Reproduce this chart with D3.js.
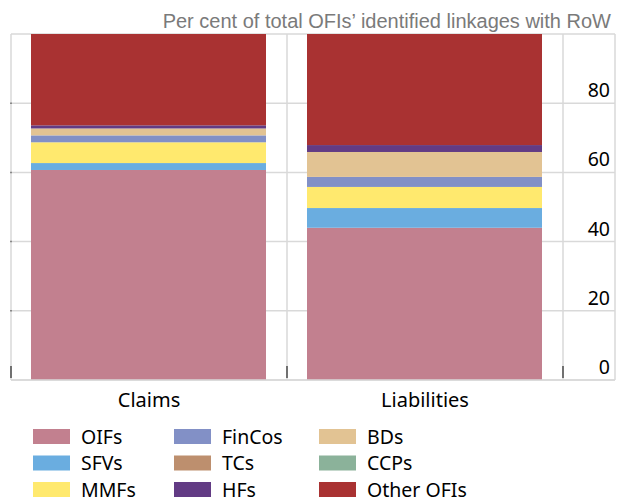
<!DOCTYPE html>
<html>
<head>
<meta charset="utf-8">
<script src="https://cdn.jsdelivr.net/npm/d3@7"></script>
<style>
  body { margin: 0; background: #fff; }
  svg { display: block; }
</style>
</head>
<body>
<script>
// categories and series (per cent of total)
var categories = ['Claims', 'Liabilities'];
var seriesNames = ['OIFs', 'SFVs', 'MMFs', 'FinCos', 'TCs', 'BDs', 'CCPs', 'HFs', 'Other OFIs'];
var seriesColors = ['#c2808f', '#6aade0', '#ffe96e', '#8290c6', '#bd8f6e', '#e2c393', '#8bb29a', '#623b84', '#a93232'];
var claimsValues = [60.7, 2.0, 6.0, 2.0, 0, 2.0, 0, 0.9, 26.4];
var liabilitiesValues = [44.0, 5.7, 6.1, 2.9, 0, 7.2, 0, 2.0, 32.1];
var legendOrder = ['OIFs', 'SFVs', 'MMFs', 'FinCos', 'TCs', 'HFs', 'BDs', 'CCPs', 'Other OFIs'];
var yTicks = [0, 20, 40, 60, 80];
var title = 'Per cent of total OFIs\u2019 identified linkages with RoW';

var W = 619, H = 501;
var mLeft = 11, plotRight = 563, mRight = 615, mTop = 34, mBottom = 380;

var svg = d3.select('body').append('svg').attr('width', W).attr('height', H);

// build rows for stacking
var rows = categories.map(function(c, i) {
  var vals = i === 0 ? claimsValues : liabilitiesValues;
  var r = { cat: c };
  seriesNames.forEach(function(s, j) { r[s] = vals[j]; });
  return r;
});
var stacked = d3.stack().keys(seriesNames)(rows);

var x = d3.scaleBand().domain(categories).range([mLeft, plotRight]);
var y = d3.scaleLinear().domain([0, 100]).range([mBottom, mTop]);
var barPad = 20;
var colorOf = function(name) { return seriesColors[seriesNames.indexOf(name)]; };

// gridlines
var grid = svg.append('g');
grid.selectAll('line.h').data(yTicks.concat([100])).enter().append('line')
  .attr('x1', mLeft).attr('x2', mRight)
  .attr('y1', function(d) { return y(d); }).attr('y2', function(d) { return y(d); })
  .attr('stroke', '#d9d9d9').attr('stroke-width', 1.5);
var vx = categories.map(function(c) { return x(c); }).concat([plotRight, mRight]);
grid.selectAll('line.v').data(vx).enter().append('line')
  .attr('x1', function(d) { return d; }).attr('x2', function(d) { return d; })
  .attr('y1', mTop).attr('y2', mBottom)
  .attr('stroke', '#d9d9d9').attr('stroke-width', 1.5);

// bars
svg.append('g').selectAll('g').data(stacked).enter().append('g')
  .attr('fill', function(d) { return colorOf(d.key); })
  .selectAll('rect').data(function(d) { return d; }).enter().append('rect')
  .attr('x', function(d) { return x(d.data.cat) + barPad; })
  .attr('width', x.bandwidth() - 2 * barPad - 1)
  .attr('y', function(d) { return y(d[1]); })
  .attr('height', function(d) { return y(d[0]) - y(d[1]); });

// baseline
svg.append('line').attr('x1', mLeft).attr('x2', mRight).attr('y1', mBottom).attr('y2', mBottom)
  .attr('stroke', '#d9d9d9').attr('stroke-width', 1.5);

// category ticks
svg.append('g').selectAll('line').data(categories.map(function(c) { return x(c); }).concat([plotRight])).enter()
  .append('line')
  .attr('x1', function(d) { return d; }).attr('x2', function(d) { return d; })
  .attr('y1', mBottom - 14).attr('y2', mBottom - 2)
  .attr('stroke', '#333').attr('stroke-width', 1.3);

// small left tick marks
svg.append('g').selectAll('line').data(yTicks.slice(1)).enter().append('line')
  .attr('x1', mLeft - 1).attr('x2', mLeft + 1)
  .attr('y1', function(d) { return y(d); }).attr('y2', function(d) { return y(d); })
  .attr('stroke', '#888').attr('stroke-width', 1.5);

// y labels
svg.append('g').selectAll('text').data(yTicks).enter().append('text')
  .attr('x', 610).attr('y', function(d) { return y(d) - 6; })
  .attr('text-anchor', 'end')
  .style('font-family', 'Noto Sans, sans-serif').style('font-size', '19.5px').attr('fill', '#000')
  .text(function(d) { return d; });

// x labels
svg.append('g').selectAll('text').data(categories).enter().append('text')
  .attr('x', function(d) { return x(d) + x.bandwidth() / 2; }).attr('y', 407)
  .attr('text-anchor', 'middle')
  .style('font-family', 'Noto Sans, sans-serif').style('font-size', '20px').attr('fill', '#000')
  .text(function(d) { return d; });

// title
svg.append('text').attr('x', 611).attr('y', 28).attr('text-anchor', 'end')
  .style('font-family', 'Liberation Sans, Arial, sans-serif').style('font-size', '20px').attr('fill', '#7a7a7a')
  .text(title);

// legend: 3 columns by 3 rows, column-major
var colX = [33, 174, 319];
var legend = svg.append('g').selectAll('g').data(legendOrder).enter().append('g')
  .attr('transform', function(d, i) {
    return 'translate(' + colX[Math.floor(i / 3)] + ',' + (429 + (i % 3) * 26.5) + ')';
  });
legend.append('rect').attr('width', 37).attr('height', 15)
  .attr('fill', function(d) { return colorOf(d); });
legend.append('text').attr('x', 48).attr('y', 14.5)
  .style('font-family', 'Noto Sans, sans-serif').style('font-size', '19.5px').attr('fill', '#000')
  .text(function(d) { return d; });
</script>
</body>
</html>
